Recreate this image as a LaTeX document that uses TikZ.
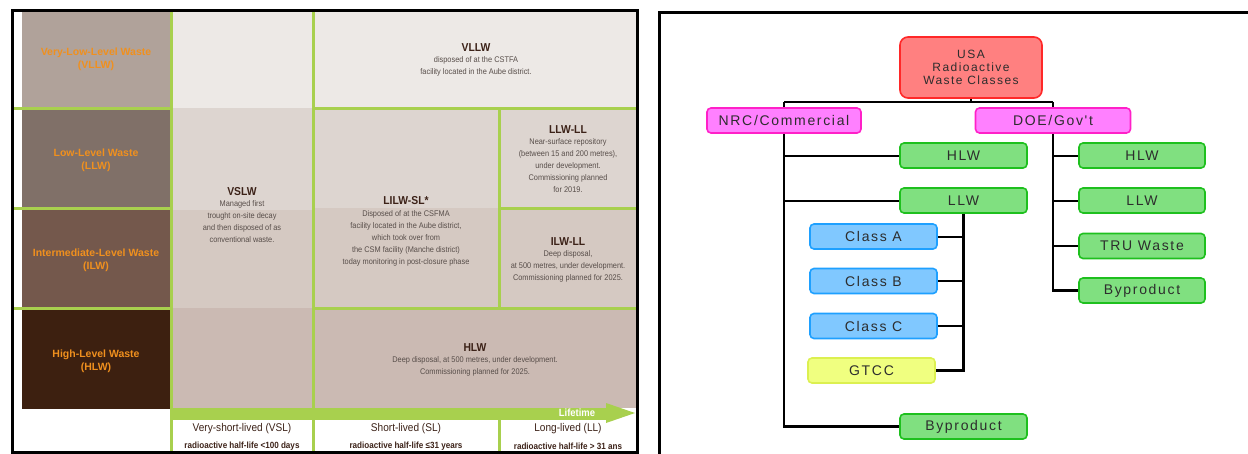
\documentclass[tikz,border=0pt]{standalone}
\usepackage{fontspec}
\setmainfont{Liberation Sans}
\newfontfamily\condfont[FakeStretch=0.9]{Liberation Sans}
\newfontfamily\boxfont[LetterSpace=12]{Liberation Sans}
\usetikzlibrary{positioning,calc}

% colours of the french table
\definecolor{limegr}{RGB}{168,208,78}
\definecolor{cellpale}{RGB}{237,233,230}
\definecolor{cellmid}{RGB}{221,213,208}
\definecolor{cellilw}{RGB}{213,201,194}
\definecolor{cellhlw}{RGB}{203,186,179}
\definecolor{vllwbg}{RGB}{176,162,154}
\definecolor{llwbg}{RGB}{128,112,104}
\definecolor{ilwbg}{RGB}{116,88,76}
\definecolor{hlwbg}{RGB}{61,32,16}
\definecolor{labelor}{RGB}{240,144,30}
\definecolor{txtgr}{RGB}{88,78,74}
\definecolor{txtbr}{RGB}{60,34,24}
% colours of the usa chart
\definecolor{redfill}{RGB}{255,128,128}
\definecolor{redline}{RGB}{255,40,40}
\definecolor{magfill}{RGB}{255,128,255}
\definecolor{magline}{RGB}{255,32,200}
\definecolor{grnfill}{RGB}{128,224,128}
\definecolor{grnline}{RGB}{30,192,30}
\definecolor{bluefill}{RGB}{128,200,255}
\definecolor{blueline}{RGB}{30,160,255}
\definecolor{yelfill}{RGB}{240,255,128}
\definecolor{yelline}{RGB}{220,240,80}
\definecolor{boxtxt}{RGB}{45,45,45}

\begin{document}
\begin{tikzpicture}[x=1pt,y=-1pt,
    grid/.style={limegr,line width=3pt},
    levlabel/.style={font=\bfseries\fontsize{10.5}{13}\selectfont,text=labelor,align=center,inner sep=0},
    celltitle/.style={font=\condfont\bfseries\fontsize{11.5}{12}\selectfont,text=txtbr,inner sep=0},
    celltxt/.style={font=\condfont\fontsize{8.2}{12}\selectfont,text=txtgr,align=center,inner sep=0},
    lifehead/.style={font=\condfont\fontsize{11.2}{12}\selectfont,text=txtbr,inner sep=0},
    lifesub/.style={font=\condfont\bfseries\fontsize{9}{12}\selectfont,text=txtbr,inner sep=0},
    wbox/.style={draw,rounded corners=4pt,line width=1.6pt,minimum height=25pt,inner sep=0,
      text=boxtxt,font=\boxfont\fontsize{14}{15}\selectfont},
    grnbox/.style={wbox,fill=grnfill,draw=grnline,minimum width=127pt},
    bluebox/.style={wbox,fill=bluefill,draw=blueline,minimum width=127pt},
    trunk/.style={line width=2.6pt},
    branch/.style={line width=2pt}]
  \useasboundingbox (0,0) rectangle (1248,453);

  %% left: french classification table
  \fill[vllwbg] (22,10) rectangle (170,107);
  \fill[llwbg] (22,110) rectangle (170,207);
  \fill[ilwbg] (22,210) rectangle (170,307);
  \fill[hlwbg] (22,310) rectangle (170,409);
  \fill[cellpale] (171,10) rectangle (313,108);
  \fill[cellmid] (171,108) rectangle (313,210);
  \fill[cellilw] (171,210) rectangle (313,308);
  \fill[cellhlw] (171,308) rectangle (313,408);
  \fill[cellpale] (313,10) rectangle (637,108);
  \fill[cellmid] (313,108) rectangle (637,208);
  \fill[cellilw] (313,208) rectangle (637,308);
  \fill[cellhlw] (313,308) rectangle (637,408);

  \draw[grid] (12,108) -- (170,108) (313,108) -- (637,108);
  \draw[grid] (12,208) -- (170,208) (499,208) -- (637,208);
  \draw[grid] (12,308) -- (170,308) (313,308) -- (637,308);
  \draw[grid] (171,10) -- (171,452) (313,10) -- (313,452);
  \draw[grid] (499,108) -- (499,308) (499,420) -- (499,452);
  \fill[limegr] (170,408) rectangle (608,420);
  \fill[limegr] (606,403) -- (635,413) -- (606,423) -- cycle;
  \draw[line width=3pt] (12,10) rectangle (637,452);

  \node[levlabel] (vllwlab) at (96,59) {Very-Low-Level Waste\\(VLLW)};
  \node[levlabel] (llwlab) at (96,160) {Low-Level Waste\\(LLW)};
  \node[levlabel] (ilwlab) at (96,260) {Intermediate-Level Waste\\(ILW)};
  \node[levlabel] (hlwlab) at (96,361) {High-Level Waste\\(HLW)};

  \node[celltitle] (vllwT) at (476,48) {VLLW};
  \node[celltxt,below=4.5pt of vllwT] (vllwB) {disposed of at the CSTFA\\facility located in the Aube district.};
  \node[celltitle] (vslwT) at (242,192) {VSLW};
  \node[celltxt,below=4.5pt of vslwT] (vslwB) {Managed first\\trought on-site decay\\and then disposed of as\\conventional waste.};
  \node[celltitle] (lilwT) at (406,201) {LILW-SL*};
  \node[celltxt,below=5pt of lilwT] (lilwB) {Disposed of at the CSFMA\\facility located in the Aube district,\\which took over from\\the CSM facility (Manche district)\\today monitoring in post-closure phase};
  \node[celltitle] (llwllT) at (568,130) {LLW-LL};
  \node[celltxt,below=4.5pt of llwllT] (llwllB) {Near-surface repository\\(between 15 and 200 metres),\\under development.\\Commissioning planned\\for 2019.};
  \node[celltitle] (ilwllT) at (568,242) {ILW-LL};
  \node[celltxt,below=4.5pt of ilwllT] (ilwllB) {Deep disposal,\\at 500 metres, under development.\\Commissioning planned for 2025.};
  \node[celltitle] (hlwT) at (475,348) {HLW};
  \node[celltxt,below=4.5pt of hlwT] (hlwB) {Deep disposal, at 500 metres, under development.\\Commissioning planned for 2025.};

  \node[font=\condfont\bfseries\fontsize{10.5}{11}\selectfont,text=white,inner sep=0] (lifetime) at (577,413) {Lifetime};
  \node[lifehead] (vslH) at (242,429) {Very-short-lived (VSL)};
  \node[lifesub] (vslS) at (242,446) {radioactive half-life <100 days};
  \node[lifehead] (slH) at (406,429) {Short-lived (SL)};
  \node[lifesub] (slS) at (406,446) {radioactive half-life ≤31 years};
  \node[lifehead] (llH) at (568,429) {Long-lived (LL)};
  \node[lifesub] (llS) at (568,446) {radioactive half-life > 31 ans};

  %% right: usa classes chart
  \draw[line width=3pt] (659,455) -- (659,12) -- (1250,12);

  \node[wbox,fill=redfill,draw=redline,rounded corners=8pt,minimum width=142pt,minimum height=61pt,
    align=center,font=\boxfont\fontsize{12}{13}\selectfont] (usa) at (971,67.5) {USA\\Radioactive\\Waste Classes};
  \node[wbox,fill=magfill,draw=magline,minimum width=154pt] (nrc) at (784,120.5) {NRC/Commercial};
  \node[wbox,fill=magfill,draw=magline,minimum width=155pt] (doe) at (1053,120.5) {DOE/Gov't};
  \node[grnbox] (nhlw) at (963.5,155.5) {HLW};
  \node[grnbox] (nllw) at (963.5,200.5) {LLW};
  \node[bluebox] (clA) at (873.5,236.5) {Class A};
  \node[bluebox] (clB) at (873.5,281) {Class B};
  \node[bluebox] (clC) at (873.5,326) {Class C};
  \node[wbox,fill=yelfill,draw=yelline,minimum width=127pt] (gtcc) at (871.5,370.5) {GTCC};
  \node[grnbox] (nbyp) at (963.5,426.5) {Byproduct};
  \node[grnbox,minimum width=126pt] (dhlw) at (1142,155.5) {HLW};
  \node[grnbox,minimum width=126pt] (dllw) at (1142,200.5) {LLW};
  \node[grnbox,minimum width=126pt] (dtru) at (1142,246) {TRU Waste};
  \node[grnbox,minimum width=126pt] (dbyp) at (1142,290.5) {Byproduct};

  \coordinate (splitL) at (784,102);
  \coordinate (splitR) at (1053,102);
  \draw[trunk] (usa.south) -- (usa.south |- splitL);
  \draw[branch] (splitL) -- (splitR);
  \draw[trunk] (splitL) -- (nrc.north);
  \draw[trunk] (splitR) -- (doe.north);
  \draw[trunk] (nrc.south) -- (nrc.south |- nbyp) -- (nbyp.west);
  \draw[branch] (nrc.south |- nhlw) -- (nhlw.west);
  \draw[branch] (nrc.south |- nllw) -- (nllw.west);
  \draw[trunk] (nllw.south) -- (nllw.south |- gtcc) -- (gtcc.east);
  \foreach \cl in {clA,clB,clC}
    \draw[branch] (nllw.south |- \cl) -- (\cl.east);
  \draw[trunk] (doe.south) -- (doe.south |- dbyp) -- (dbyp.west);
  \foreach \dw in {dhlw,dllw,dtru}
    \draw[branch] (doe.south |- \dw) -- (\dw.west);
\end{tikzpicture}
\end{document}
